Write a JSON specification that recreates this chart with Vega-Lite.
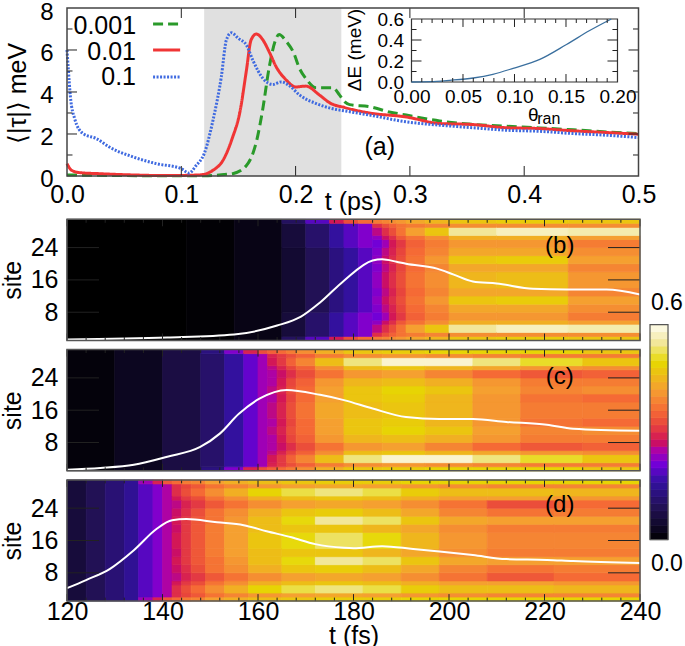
{"$schema":"https://vega.github.io/schema/vega-lite/v6.json","padding":{"left":0,"top":0,"right":0,"bottom":0},"background":"white","spacing":8.3,"bounds":"flush",
"config":{"font":"Liberation Sans","view":{"stroke":null},"axis":{"grid":false,"domain":false,"ticks":false,"tickSize":0,"labelColor":"#000","titleColor":"#000","titleFontWeight":"normal","labelFontSize":25,"titleFontSize":25,"labelFlush":false,"labelBound":false,"labelOverlap":false}},
"datasets":{
"heatFrame":[{"t":120,"u":240,"s":1,"e":31}],
"heatTicksX":[{"p":120,"a":1,"b":2.73},{"p":124,"a":1,"b":1.86},{"p":128,"a":1,"b":1.86},{"p":132,"a":1,"b":1.86},{"p":136,"a":1,"b":1.86},{"p":140,"a":1,"b":2.73},{"p":144,"a":1,"b":1.86},{"p":148,"a":1,"b":1.86},{"p":152,"a":1,"b":1.86},{"p":156,"a":1,"b":1.86},{"p":160,"a":1,"b":2.73},{"p":164,"a":1,"b":1.86},{"p":168,"a":1,"b":1.86},{"p":172,"a":1,"b":1.86},{"p":176,"a":1,"b":1.86},{"p":180,"a":1,"b":2.73},{"p":184,"a":1,"b":1.86},{"p":188,"a":1,"b":1.86},{"p":192,"a":1,"b":1.86},{"p":196,"a":1,"b":1.86},{"p":200,"a":1,"b":2.73},{"p":204,"a":1,"b":1.86},{"p":208,"a":1,"b":1.86},{"p":212,"a":1,"b":1.86},{"p":216,"a":1,"b":1.86},{"p":220,"a":1,"b":2.73},{"p":224,"a":1,"b":1.86},{"p":228,"a":1,"b":1.86},{"p":232,"a":1,"b":1.86},{"p":236,"a":1,"b":1.86},{"p":240,"a":1,"b":2.73},{"p":120,"a":31,"b":29.27},{"p":124,"a":31,"b":30.14},{"p":128,"a":31,"b":30.14},{"p":132,"a":31,"b":30.14},{"p":136,"a":31,"b":30.14},{"p":140,"a":31,"b":29.27},{"p":144,"a":31,"b":30.14},{"p":148,"a":31,"b":30.14},{"p":152,"a":31,"b":30.14},{"p":156,"a":31,"b":30.14},{"p":160,"a":31,"b":29.27},{"p":164,"a":31,"b":30.14},{"p":168,"a":31,"b":30.14},{"p":172,"a":31,"b":30.14},{"p":176,"a":31,"b":30.14},{"p":180,"a":31,"b":29.27},{"p":184,"a":31,"b":30.14},{"p":188,"a":31,"b":30.14},{"p":192,"a":31,"b":30.14},{"p":196,"a":31,"b":30.14},{"p":200,"a":31,"b":29.27},{"p":204,"a":31,"b":30.14},{"p":208,"a":31,"b":30.14},{"p":212,"a":31,"b":30.14},{"p":216,"a":31,"b":30.14},{"p":220,"a":31,"b":29.27},{"p":224,"a":31,"b":30.14},{"p":228,"a":31,"b":30.14},{"p":232,"a":31,"b":30.14},{"p":236,"a":31,"b":30.14},{"p":240,"a":31,"b":29.27}],
"heatTicksY":[{"p":8,"a":120,"b":126.7},{"p":16,"a":120,"b":126.7},{"p":24,"a":120,"b":126.7},{"p":8,"a":240,"b":233.3},{"p":16,"a":240,"b":233.3},{"p":24,"a":240,"b":233.3}],
"bar":[{"lo":0,"hi":0.02,"v":0.01},{"lo":0.02,"hi":0.04,"v":0.03},{"lo":0.04,"hi":0.06,"v":0.05},{"lo":0.06,"hi":0.08,"v":0.07},{"lo":0.08,"hi":0.1,"v":0.09},{"lo":0.1,"hi":0.12,"v":0.11},{"lo":0.12,"hi":0.14,"v":0.13},{"lo":0.14,"hi":0.16,"v":0.15},{"lo":0.16,"hi":0.18,"v":0.17},{"lo":0.18,"hi":0.2,"v":0.19},{"lo":0.2,"hi":0.22,"v":0.21},{"lo":0.22,"hi":0.24,"v":0.23},{"lo":0.24,"hi":0.26,"v":0.25},{"lo":0.26,"hi":0.28,"v":0.27},{"lo":0.28,"hi":0.3,"v":0.29},{"lo":0.3,"hi":0.32,"v":0.31},{"lo":0.32,"hi":0.34,"v":0.33},{"lo":0.34,"hi":0.36,"v":0.35},{"lo":0.36,"hi":0.38,"v":0.37},{"lo":0.38,"hi":0.4,"v":0.39},{"lo":0.4,"hi":0.42,"v":0.41},{"lo":0.42,"hi":0.44,"v":0.43},{"lo":0.44,"hi":0.46,"v":0.45},{"lo":0.46,"hi":0.48,"v":0.47},{"lo":0.48,"hi":0.5,"v":0.49},{"lo":0.5,"hi":0.52,"v":0.51},{"lo":0.52,"hi":0.54,"v":0.53},{"lo":0.54,"hi":0.56,"v":0.55},{"lo":0.56,"hi":0.58,"v":0.57},{"lo":0.58,"hi":0.6,"v":0.59}],
"heatB":[{"t":120,"u":145,"s":1,"e":31,"v":0},{"t":145,"u":155,"s":1,"e":31,"v":0.005},{"t":155,"u":165,"s":1,"e":31,"v":0.02},
{"t":165,"u":170,"s":1,"e":2,"v":0.1},{"t":165,"u":170,"s":2,"e":8,"v":0.06},{"t":165,"u":170,"s":8,"e":24,"v":0.05},{"t":165,"u":170,"s":24,"e":30,"v":0.06},{"t":165,"u":170,"s":30,"e":31,"v":0.1},
{"t":170,"u":175,"s":1,"e":2,"v":0.19},{"t":170,"u":175,"s":2,"e":8,"v":0.11},{"t":170,"u":175,"s":8,"e":24,"v":0.09},{"t":170,"u":175,"s":24,"e":30,"v":0.11},{"t":170,"u":175,"s":30,"e":31,"v":0.19},
{"t":175,"u":178,"s":1,"e":2,"v":0.28},{"t":175,"u":178,"s":2,"e":8,"v":0.16},{"t":175,"u":178,"s":8,"e":24,"v":0.13},{"t":175,"u":178,"s":24,"e":30,"v":0.16},{"t":175,"u":178,"s":30,"e":31,"v":0.28},
{"t":178,"u":181,"s":1,"e":2,"v":0.33},{"t":178,"u":181,"s":2,"e":8,"v":0.19},{"t":178,"u":181,"s":8,"e":24,"v":0.16},{"t":178,"u":181,"s":24,"e":30,"v":0.19},{"t":178,"u":181,"s":30,"e":31,"v":0.33},
{"t":181,"u":184,"s":1,"e":2,"v":0.36},{"t":181,"u":184,"s":2,"e":8,"v":0.22},{"t":181,"u":184,"s":8,"e":24,"v":0.19},{"t":181,"u":184,"s":24,"e":30,"v":0.22},{"t":181,"u":184,"s":30,"e":31,"v":0.36},
{"t":184,"u":186,"s":1,"e":2,"v":0.38},{"t":184,"u":186,"s":2,"e":3,"v":0.3},{"t":184,"u":186,"s":3,"e":5,"v":0.26},{"t":184,"u":186,"s":5,"e":6,"v":0.23},{"t":184,"u":186,"s":6,"e":8,"v":0.21},{"t":184,"u":186,"s":8,"e":10,"v":0.22},{"t":184,"u":186,"s":10,"e":12,"v":0.23},{"t":184,"u":186,"s":12,"e":14,"v":0.22},{"t":184,"u":186,"s":14,"e":18,"v":0.23},{"t":184,"u":186,"s":18,"e":20,"v":0.22},{"t":184,"u":186,"s":20,"e":22,"v":0.23},{"t":184,"u":186,"s":22,"e":24,"v":0.22},{"t":184,"u":186,"s":24,"e":26,"v":0.21},{"t":184,"u":186,"s":26,"e":27,"v":0.23},{"t":184,"u":186,"s":27,"e":29,"v":0.26},{"t":184,"u":186,"s":29,"e":30,"v":0.3},{"t":184,"u":186,"s":30,"e":31,"v":0.38},
{"t":186,"u":187.5,"s":1,"e":2,"v":0.39},{"t":186,"u":187.5,"s":2,"e":3,"v":0.33},{"t":186,"u":187.5,"s":3,"e":5,"v":0.3},{"t":186,"u":187.5,"s":5,"e":6,"v":0.27},{"t":186,"u":187.5,"s":6,"e":8,"v":0.24},{"t":186,"u":187.5,"s":8,"e":10,"v":0.26},{"t":186,"u":187.5,"s":10,"e":12,"v":0.27},{"t":186,"u":187.5,"s":12,"e":14,"v":0.26},{"t":186,"u":187.5,"s":14,"e":18,"v":0.27},{"t":186,"u":187.5,"s":18,"e":20,"v":0.26},{"t":186,"u":187.5,"s":20,"e":22,"v":0.27},{"t":186,"u":187.5,"s":22,"e":24,"v":0.26},{"t":186,"u":187.5,"s":24,"e":26,"v":0.24},{"t":186,"u":187.5,"s":26,"e":27,"v":0.27},{"t":186,"u":187.5,"s":27,"e":29,"v":0.3},{"t":186,"u":187.5,"s":29,"e":30,"v":0.33},{"t":186,"u":187.5,"s":30,"e":31,"v":0.39},
{"t":187.5,"u":189,"s":1,"e":2,"v":0.4},{"t":187.5,"u":189,"s":2,"e":3,"v":0.35},{"t":187.5,"u":189,"s":3,"e":5,"v":0.33},{"t":187.5,"u":189,"s":5,"e":6,"v":0.3},{"t":187.5,"u":189,"s":6,"e":8,"v":0.28},{"t":187.5,"u":189,"s":8,"e":10,"v":0.29},{"t":187.5,"u":189,"s":10,"e":12,"v":0.3},{"t":187.5,"u":189,"s":12,"e":14,"v":0.29},{"t":187.5,"u":189,"s":14,"e":18,"v":0.3},{"t":187.5,"u":189,"s":18,"e":20,"v":0.29},{"t":187.5,"u":189,"s":20,"e":22,"v":0.3},{"t":187.5,"u":189,"s":22,"e":24,"v":0.29},{"t":187.5,"u":189,"s":24,"e":26,"v":0.28},{"t":187.5,"u":189,"s":26,"e":27,"v":0.3},{"t":187.5,"u":189,"s":27,"e":29,"v":0.33},{"t":187.5,"u":189,"s":29,"e":30,"v":0.35},{"t":187.5,"u":189,"s":30,"e":31,"v":0.4},
{"t":189,"u":191,"s":1,"e":2,"v":0.41},{"t":189,"u":191,"s":2,"e":3,"v":0.37},{"t":189,"u":191,"s":3,"e":5,"v":0.37},{"t":189,"u":191,"s":5,"e":6,"v":0.34},{"t":189,"u":191,"s":6,"e":8,"v":0.31},{"t":189,"u":191,"s":8,"e":10,"v":0.32},{"t":189,"u":191,"s":10,"e":12,"v":0.33},{"t":189,"u":191,"s":12,"e":14,"v":0.32},{"t":189,"u":191,"s":14,"e":18,"v":0.33},{"t":189,"u":191,"s":18,"e":20,"v":0.32},{"t":189,"u":191,"s":20,"e":22,"v":0.33},{"t":189,"u":191,"s":22,"e":24,"v":0.32},{"t":189,"u":191,"s":24,"e":26,"v":0.31},{"t":189,"u":191,"s":26,"e":27,"v":0.34},{"t":189,"u":191,"s":27,"e":29,"v":0.37},{"t":189,"u":191,"s":29,"e":30,"v":0.37},{"t":189,"u":191,"s":30,"e":31,"v":0.41},
{"t":191,"u":195,"s":1,"e":2,"v":0.43},{"t":191,"u":195,"s":2,"e":3,"v":0.38},{"t":191,"u":195,"s":3,"e":5,"v":0.42},{"t":191,"u":195,"s":5,"e":6,"v":0.37},{"t":191,"u":195,"s":6,"e":8,"v":0.35},{"t":191,"u":195,"s":8,"e":10,"v":0.36},{"t":191,"u":195,"s":10,"e":12,"v":0.37},{"t":191,"u":195,"s":12,"e":14,"v":0.36},{"t":191,"u":195,"s":14,"e":18,"v":0.37},{"t":191,"u":195,"s":18,"e":20,"v":0.36},{"t":191,"u":195,"s":20,"e":22,"v":0.37},{"t":191,"u":195,"s":22,"e":24,"v":0.36},{"t":191,"u":195,"s":24,"e":26,"v":0.35},{"t":191,"u":195,"s":26,"e":27,"v":0.37},{"t":191,"u":195,"s":27,"e":29,"v":0.42},{"t":191,"u":195,"s":29,"e":30,"v":0.38},{"t":191,"u":195,"s":30,"e":31,"v":0.43},
{"t":195,"u":200,"s":1,"e":2,"v":0.45},{"t":195,"u":200,"s":2,"e":3,"v":0.39},{"t":195,"u":200,"s":3,"e":5,"v":0.47},{"t":195,"u":200,"s":5,"e":6,"v":0.4},{"t":195,"u":200,"s":6,"e":8,"v":0.38},{"t":195,"u":200,"s":8,"e":10,"v":0.39},{"t":195,"u":200,"s":10,"e":12,"v":0.41},{"t":195,"u":200,"s":12,"e":14,"v":0.39},{"t":195,"u":200,"s":14,"e":18,"v":0.4},{"t":195,"u":200,"s":18,"e":20,"v":0.39},{"t":195,"u":200,"s":20,"e":22,"v":0.41},{"t":195,"u":200,"s":22,"e":24,"v":0.39},{"t":195,"u":200,"s":24,"e":26,"v":0.38},{"t":195,"u":200,"s":26,"e":27,"v":0.4},{"t":195,"u":200,"s":27,"e":29,"v":0.47},{"t":195,"u":200,"s":29,"e":30,"v":0.39},{"t":195,"u":200,"s":30,"e":31,"v":0.45},
{"t":200,"u":210,"s":1,"e":2,"v":0.47},{"t":200,"u":210,"s":2,"e":3,"v":0.4},{"t":200,"u":210,"s":3,"e":5,"v":0.55},{"t":200,"u":210,"s":5,"e":6,"v":0.44},{"t":200,"u":210,"s":6,"e":8,"v":0.41},{"t":200,"u":210,"s":8,"e":10,"v":0.43},{"t":200,"u":210,"s":10,"e":12,"v":0.47},{"t":200,"u":210,"s":12,"e":14,"v":0.43},{"t":200,"u":210,"s":14,"e":18,"v":0.45},{"t":200,"u":210,"s":18,"e":20,"v":0.43},{"t":200,"u":210,"s":20,"e":22,"v":0.47},{"t":200,"u":210,"s":22,"e":24,"v":0.43},{"t":200,"u":210,"s":24,"e":26,"v":0.41},{"t":200,"u":210,"s":26,"e":27,"v":0.44},{"t":200,"u":210,"s":27,"e":29,"v":0.55},{"t":200,"u":210,"s":29,"e":30,"v":0.4},{"t":200,"u":210,"s":30,"e":31,"v":0.47},
{"t":210,"u":225,"s":1,"e":2,"v":0.48},{"t":210,"u":225,"s":2,"e":3,"v":0.4},{"t":210,"u":225,"s":3,"e":5,"v":0.57},{"t":210,"u":225,"s":5,"e":6,"v":0.44},{"t":210,"u":225,"s":6,"e":8,"v":0.41},{"t":210,"u":225,"s":8,"e":10,"v":0.43},{"t":210,"u":225,"s":10,"e":12,"v":0.48},{"t":210,"u":225,"s":12,"e":14,"v":0.43},{"t":210,"u":225,"s":14,"e":18,"v":0.46},{"t":210,"u":225,"s":18,"e":20,"v":0.43},{"t":210,"u":225,"s":20,"e":22,"v":0.48},{"t":210,"u":225,"s":22,"e":24,"v":0.43},{"t":210,"u":225,"s":24,"e":26,"v":0.41},{"t":210,"u":225,"s":26,"e":27,"v":0.44},{"t":210,"u":225,"s":27,"e":29,"v":0.57},{"t":210,"u":225,"s":29,"e":30,"v":0.4},{"t":210,"u":225,"s":30,"e":31,"v":0.48},
{"t":225,"u":240,"s":1,"e":2,"v":0.47},{"t":225,"u":240,"s":2,"e":3,"v":0.4},{"t":225,"u":240,"s":3,"e":5,"v":0.56},{"t":225,"u":240,"s":5,"e":6,"v":0.42},{"t":225,"u":240,"s":6,"e":8,"v":0.38},{"t":225,"u":240,"s":8,"e":10,"v":0.4},{"t":225,"u":240,"s":10,"e":12,"v":0.42},{"t":225,"u":240,"s":12,"e":14,"v":0.39},{"t":225,"u":240,"s":14,"e":18,"v":0.41},{"t":225,"u":240,"s":18,"e":20,"v":0.39},{"t":225,"u":240,"s":20,"e":22,"v":0.42},{"t":225,"u":240,"s":22,"e":24,"v":0.4},{"t":225,"u":240,"s":24,"e":26,"v":0.38},{"t":225,"u":240,"s":26,"e":27,"v":0.42},{"t":225,"u":240,"s":27,"e":29,"v":0.56},{"t":225,"u":240,"s":29,"e":30,"v":0.4},{"t":225,"u":240,"s":30,"e":31,"v":0.47}],
"heatC":[{"t":120,"u":130,"s":1,"e":31,"v":0.01},{"t":130,"u":140,"s":1,"e":31,"v":0.03},{"t":140,"u":148,"s":1,"e":31,"v":0.07},
{"t":148,"u":153,"s":1,"e":2,"v":0.13},{"t":148,"u":153,"s":2,"e":30,"v":0.11},{"t":148,"u":153,"s":30,"e":31,"v":0.13},
{"t":153,"u":157,"s":1,"e":2,"v":0.22},{"t":153,"u":157,"s":2,"e":30,"v":0.16},{"t":153,"u":157,"s":30,"e":31,"v":0.22},
{"t":157,"u":160,"s":1,"e":2,"v":0.29},{"t":157,"u":160,"s":2,"e":30,"v":0.2},{"t":157,"u":160,"s":30,"e":31,"v":0.29},
{"t":160,"u":162,"s":1,"e":2,"v":0.33},{"t":160,"u":162,"s":2,"e":30,"v":0.24},{"t":160,"u":162,"s":30,"e":31,"v":0.33},
{"t":162,"u":164,"s":1,"e":2,"v":0.35},{"t":162,"u":164,"s":2,"e":3,"v":0.29},{"t":162,"u":164,"s":3,"e":5,"v":0.28},{"t":162,"u":164,"s":5,"e":6,"v":0.26},{"t":162,"u":164,"s":6,"e":8,"v":0.25},{"t":162,"u":164,"s":8,"e":10,"v":0.25},{"t":162,"u":164,"s":10,"e":12,"v":0.26},{"t":162,"u":164,"s":12,"e":14,"v":0.25},{"t":162,"u":164,"s":14,"e":18,"v":0.26},{"t":162,"u":164,"s":18,"e":20,"v":0.25},{"t":162,"u":164,"s":20,"e":22,"v":0.26},{"t":162,"u":164,"s":22,"e":24,"v":0.25},{"t":162,"u":164,"s":24,"e":26,"v":0.25},{"t":162,"u":164,"s":26,"e":27,"v":0.26},{"t":162,"u":164,"s":27,"e":29,"v":0.28},{"t":162,"u":164,"s":29,"e":30,"v":0.29},{"t":162,"u":164,"s":30,"e":31,"v":0.35},
{"t":164,"u":166,"s":1,"e":2,"v":0.36},{"t":164,"u":166,"s":2,"e":3,"v":0.31},{"t":164,"u":166,"s":3,"e":5,"v":0.31},{"t":164,"u":166,"s":5,"e":6,"v":0.29},{"t":164,"u":166,"s":6,"e":8,"v":0.27},{"t":164,"u":166,"s":8,"e":10,"v":0.28},{"t":164,"u":166,"s":10,"e":12,"v":0.29},{"t":164,"u":166,"s":12,"e":14,"v":0.28},{"t":164,"u":166,"s":14,"e":18,"v":0.29},{"t":164,"u":166,"s":18,"e":20,"v":0.28},{"t":164,"u":166,"s":20,"e":22,"v":0.29},{"t":164,"u":166,"s":22,"e":24,"v":0.28},{"t":164,"u":166,"s":24,"e":26,"v":0.27},{"t":164,"u":166,"s":26,"e":27,"v":0.29},{"t":164,"u":166,"s":27,"e":29,"v":0.31},{"t":164,"u":166,"s":29,"e":30,"v":0.31},{"t":164,"u":166,"s":30,"e":31,"v":0.36},
{"t":166,"u":168,"s":1,"e":2,"v":0.38},{"t":166,"u":168,"s":2,"e":3,"v":0.33},{"t":166,"u":168,"s":3,"e":5,"v":0.35},{"t":166,"u":168,"s":5,"e":6,"v":0.32},{"t":166,"u":168,"s":6,"e":8,"v":0.3},{"t":166,"u":168,"s":8,"e":10,"v":0.32},{"t":166,"u":168,"s":10,"e":12,"v":0.33},{"t":166,"u":168,"s":12,"e":14,"v":0.32},{"t":166,"u":168,"s":14,"e":18,"v":0.33},{"t":166,"u":168,"s":18,"e":20,"v":0.32},{"t":166,"u":168,"s":20,"e":22,"v":0.33},{"t":166,"u":168,"s":22,"e":24,"v":0.32},{"t":166,"u":168,"s":24,"e":26,"v":0.3},{"t":166,"u":168,"s":26,"e":27,"v":0.32},{"t":166,"u":168,"s":27,"e":29,"v":0.35},{"t":166,"u":168,"s":29,"e":30,"v":0.33},{"t":166,"u":168,"s":30,"e":31,"v":0.38},
{"t":168,"u":172,"s":1,"e":2,"v":0.4},{"t":168,"u":172,"s":2,"e":3,"v":0.35},{"t":168,"u":172,"s":3,"e":5,"v":0.39},{"t":168,"u":172,"s":5,"e":6,"v":0.35},{"t":168,"u":172,"s":6,"e":8,"v":0.33},{"t":168,"u":172,"s":8,"e":10,"v":0.35},{"t":168,"u":172,"s":10,"e":12,"v":0.36},{"t":168,"u":172,"s":12,"e":14,"v":0.36},{"t":168,"u":172,"s":14,"e":18,"v":0.37},{"t":168,"u":172,"s":18,"e":20,"v":0.36},{"t":168,"u":172,"s":20,"e":22,"v":0.36},{"t":168,"u":172,"s":22,"e":24,"v":0.35},{"t":168,"u":172,"s":24,"e":26,"v":0.33},{"t":168,"u":172,"s":26,"e":27,"v":0.35},{"t":168,"u":172,"s":27,"e":29,"v":0.39},{"t":168,"u":172,"s":29,"e":30,"v":0.35},{"t":168,"u":172,"s":30,"e":31,"v":0.4},
{"t":172,"u":178,"s":1,"e":2,"v":0.44},{"t":172,"u":178,"s":2,"e":3,"v":0.38},{"t":172,"u":178,"s":3,"e":5,"v":0.46},{"t":172,"u":178,"s":5,"e":6,"v":0.4},{"t":172,"u":178,"s":6,"e":8,"v":0.37},{"t":172,"u":178,"s":8,"e":10,"v":0.41},{"t":172,"u":178,"s":10,"e":12,"v":0.42},{"t":172,"u":178,"s":12,"e":14,"v":0.42},{"t":172,"u":178,"s":14,"e":18,"v":0.43},{"t":172,"u":178,"s":18,"e":20,"v":0.42},{"t":172,"u":178,"s":20,"e":22,"v":0.42},{"t":172,"u":178,"s":22,"e":24,"v":0.41},{"t":172,"u":178,"s":24,"e":26,"v":0.37},{"t":172,"u":178,"s":26,"e":27,"v":0.4},{"t":172,"u":178,"s":27,"e":29,"v":0.46},{"t":172,"u":178,"s":29,"e":30,"v":0.38},{"t":172,"u":178,"s":30,"e":31,"v":0.44},
{"t":178,"u":186,"s":1,"e":2,"v":0.47},{"t":178,"u":186,"s":2,"e":3,"v":0.4},{"t":178,"u":186,"s":3,"e":5,"v":0.54},{"t":178,"u":186,"s":5,"e":6,"v":0.46},{"t":178,"u":186,"s":6,"e":8,"v":0.41},{"t":178,"u":186,"s":8,"e":10,"v":0.45},{"t":178,"u":186,"s":10,"e":12,"v":0.47},{"t":178,"u":186,"s":12,"e":14,"v":0.47},{"t":178,"u":186,"s":14,"e":18,"v":0.46},{"t":178,"u":186,"s":18,"e":20,"v":0.47},{"t":178,"u":186,"s":20,"e":22,"v":0.47},{"t":178,"u":186,"s":22,"e":24,"v":0.45},{"t":178,"u":186,"s":24,"e":26,"v":0.41},{"t":178,"u":186,"s":26,"e":27,"v":0.46},{"t":178,"u":186,"s":27,"e":29,"v":0.54},{"t":178,"u":186,"s":29,"e":30,"v":0.4},{"t":178,"u":186,"s":30,"e":31,"v":0.47},
{"t":186,"u":195,"s":1,"e":2,"v":0.48},{"t":186,"u":195,"s":2,"e":3,"v":0.41},{"t":186,"u":195,"s":3,"e":5,"v":0.58},{"t":186,"u":195,"s":5,"e":6,"v":0.47},{"t":186,"u":195,"s":6,"e":8,"v":0.42},{"t":186,"u":195,"s":8,"e":10,"v":0.46},{"t":186,"u":195,"s":10,"e":12,"v":0.49},{"t":186,"u":195,"s":12,"e":14,"v":0.48},{"t":186,"u":195,"s":14,"e":18,"v":0.47},{"t":186,"u":195,"s":18,"e":20,"v":0.48},{"t":186,"u":195,"s":20,"e":22,"v":0.49},{"t":186,"u":195,"s":22,"e":24,"v":0.46},{"t":186,"u":195,"s":24,"e":26,"v":0.42},{"t":186,"u":195,"s":26,"e":27,"v":0.47},{"t":186,"u":195,"s":27,"e":29,"v":0.58},{"t":186,"u":195,"s":29,"e":30,"v":0.41},{"t":186,"u":195,"s":30,"e":31,"v":0.48},
{"t":195,"u":205,"s":1,"e":2,"v":0.49},{"t":195,"u":205,"s":2,"e":3,"v":0.4},{"t":195,"u":205,"s":3,"e":5,"v":0.58},{"t":195,"u":205,"s":5,"e":6,"v":0.45},{"t":195,"u":205,"s":6,"e":8,"v":0.39},{"t":195,"u":205,"s":8,"e":10,"v":0.44},{"t":195,"u":205,"s":10,"e":12,"v":0.47},{"t":195,"u":205,"s":12,"e":14,"v":0.45},{"t":195,"u":205,"s":14,"e":18,"v":0.45},{"t":195,"u":205,"s":18,"e":20,"v":0.45},{"t":195,"u":205,"s":20,"e":22,"v":0.47},{"t":195,"u":205,"s":22,"e":24,"v":0.44},{"t":195,"u":205,"s":24,"e":26,"v":0.39},{"t":195,"u":205,"s":26,"e":27,"v":0.45},{"t":195,"u":205,"s":27,"e":29,"v":0.58},{"t":195,"u":205,"s":29,"e":30,"v":0.4},{"t":195,"u":205,"s":30,"e":31,"v":0.49},
{"t":205,"u":215,"s":1,"e":2,"v":0.49},{"t":205,"u":215,"s":2,"e":3,"v":0.39},{"t":205,"u":215,"s":3,"e":5,"v":0.54},{"t":205,"u":215,"s":5,"e":6,"v":0.43},{"t":205,"u":215,"s":6,"e":8,"v":0.36},{"t":205,"u":215,"s":8,"e":10,"v":0.41},{"t":205,"u":215,"s":10,"e":12,"v":0.42},{"t":205,"u":215,"s":12,"e":14,"v":0.41},{"t":205,"u":215,"s":14,"e":18,"v":0.41},{"t":205,"u":215,"s":18,"e":20,"v":0.41},{"t":205,"u":215,"s":20,"e":22,"v":0.42},{"t":205,"u":215,"s":22,"e":24,"v":0.41},{"t":205,"u":215,"s":24,"e":26,"v":0.36},{"t":205,"u":215,"s":26,"e":27,"v":0.43},{"t":205,"u":215,"s":27,"e":29,"v":0.54},{"t":205,"u":215,"s":29,"e":30,"v":0.39},{"t":205,"u":215,"s":30,"e":31,"v":0.49},
{"t":215,"u":228,"s":1,"e":2,"v":0.49},{"t":215,"u":228,"s":2,"e":3,"v":0.38},{"t":215,"u":228,"s":3,"e":5,"v":0.51},{"t":215,"u":228,"s":5,"e":6,"v":0.41},{"t":215,"u":228,"s":6,"e":8,"v":0.34},{"t":215,"u":228,"s":8,"e":10,"v":0.38},{"t":215,"u":228,"s":10,"e":12,"v":0.39},{"t":215,"u":228,"s":12,"e":14,"v":0.37},{"t":215,"u":228,"s":14,"e":18,"v":0.38},{"t":215,"u":228,"s":18,"e":20,"v":0.37},{"t":215,"u":228,"s":20,"e":22,"v":0.39},{"t":215,"u":228,"s":22,"e":24,"v":0.38},{"t":215,"u":228,"s":24,"e":26,"v":0.34},{"t":215,"u":228,"s":26,"e":27,"v":0.41},{"t":215,"u":228,"s":27,"e":29,"v":0.51},{"t":215,"u":228,"s":29,"e":30,"v":0.38},{"t":215,"u":228,"s":30,"e":31,"v":0.49},
{"t":228,"u":240,"s":1,"e":2,"v":0.47},{"t":228,"u":240,"s":2,"e":3,"v":0.38},{"t":228,"u":240,"s":3,"e":5,"v":0.47},{"t":228,"u":240,"s":5,"e":6,"v":0.4},{"t":228,"u":240,"s":6,"e":8,"v":0.35},{"t":228,"u":240,"s":8,"e":10,"v":0.38},{"t":228,"u":240,"s":10,"e":12,"v":0.4},{"t":228,"u":240,"s":12,"e":14,"v":0.36},{"t":228,"u":240,"s":14,"e":18,"v":0.38},{"t":228,"u":240,"s":18,"e":20,"v":0.36},{"t":228,"u":240,"s":20,"e":22,"v":0.4},{"t":228,"u":240,"s":22,"e":24,"v":0.38},{"t":228,"u":240,"s":24,"e":26,"v":0.35},{"t":228,"u":240,"s":26,"e":27,"v":0.4},{"t":228,"u":240,"s":27,"e":29,"v":0.47},{"t":228,"u":240,"s":29,"e":30,"v":0.38},{"t":228,"u":240,"s":30,"e":31,"v":0.47}],
"heatD":[{"t":120,"u":124,"s":1,"e":31,"v":0.06},{"t":124,"u":128,"s":1,"e":31,"v":0.09},{"t":128,"u":132,"s":1,"e":31,"v":0.12},{"t":132,"u":135,"s":1,"e":31,"v":0.15},
{"t":135,"u":138,"s":1,"e":2,"v":0.24},{"t":135,"u":138,"s":2,"e":30,"v":0.19},{"t":135,"u":138,"s":30,"e":31,"v":0.24},
{"t":138,"u":140,"s":1,"e":2,"v":0.29},{"t":138,"u":140,"s":2,"e":30,"v":0.22},{"t":138,"u":140,"s":30,"e":31,"v":0.29},
{"t":140,"u":142,"s":1,"e":2,"v":0.34},{"t":140,"u":142,"s":2,"e":30,"v":0.25},{"t":140,"u":142,"s":30,"e":31,"v":0.34},
{"t":142,"u":144,"s":1,"e":2,"v":0.36},{"t":142,"u":144,"s":2,"e":3,"v":0.3},{"t":142,"u":144,"s":3,"e":5,"v":0.3},{"t":142,"u":144,"s":5,"e":6,"v":0.28},{"t":142,"u":144,"s":6,"e":8,"v":0.26},{"t":142,"u":144,"s":8,"e":10,"v":0.27},{"t":142,"u":144,"s":10,"e":12,"v":0.28},{"t":142,"u":144,"s":12,"e":14,"v":0.27},{"t":142,"u":144,"s":14,"e":18,"v":0.28},{"t":142,"u":144,"s":18,"e":20,"v":0.27},{"t":142,"u":144,"s":20,"e":22,"v":0.28},{"t":142,"u":144,"s":22,"e":24,"v":0.27},{"t":142,"u":144,"s":24,"e":26,"v":0.26},{"t":142,"u":144,"s":26,"e":27,"v":0.28},{"t":142,"u":144,"s":27,"e":29,"v":0.3},{"t":142,"u":144,"s":29,"e":30,"v":0.3},{"t":142,"u":144,"s":30,"e":31,"v":0.36},
{"t":144,"u":146,"s":1,"e":2,"v":0.38},{"t":144,"u":146,"s":2,"e":3,"v":0.32},{"t":144,"u":146,"s":3,"e":5,"v":0.33},{"t":144,"u":146,"s":5,"e":6,"v":0.31},{"t":144,"u":146,"s":6,"e":8,"v":0.29},{"t":144,"u":146,"s":8,"e":10,"v":0.3},{"t":144,"u":146,"s":10,"e":12,"v":0.31},{"t":144,"u":146,"s":12,"e":14,"v":0.31},{"t":144,"u":146,"s":14,"e":18,"v":0.31},{"t":144,"u":146,"s":18,"e":20,"v":0.31},{"t":144,"u":146,"s":20,"e":22,"v":0.31},{"t":144,"u":146,"s":22,"e":24,"v":0.3},{"t":144,"u":146,"s":24,"e":26,"v":0.29},{"t":144,"u":146,"s":26,"e":27,"v":0.31},{"t":144,"u":146,"s":27,"e":29,"v":0.33},{"t":144,"u":146,"s":29,"e":30,"v":0.32},{"t":144,"u":146,"s":30,"e":31,"v":0.38},
{"t":146,"u":149,"s":1,"e":2,"v":0.39},{"t":146,"u":149,"s":2,"e":3,"v":0.34},{"t":146,"u":149,"s":3,"e":5,"v":0.36},{"t":146,"u":149,"s":5,"e":6,"v":0.33},{"t":146,"u":149,"s":6,"e":8,"v":0.31},{"t":146,"u":149,"s":8,"e":10,"v":0.33},{"t":146,"u":149,"s":10,"e":12,"v":0.34},{"t":146,"u":149,"s":12,"e":14,"v":0.34},{"t":146,"u":149,"s":14,"e":18,"v":0.34},{"t":146,"u":149,"s":18,"e":20,"v":0.34},{"t":146,"u":149,"s":20,"e":22,"v":0.34},{"t":146,"u":149,"s":22,"e":24,"v":0.33},{"t":146,"u":149,"s":24,"e":26,"v":0.31},{"t":146,"u":149,"s":26,"e":27,"v":0.33},{"t":146,"u":149,"s":27,"e":29,"v":0.36},{"t":146,"u":149,"s":29,"e":30,"v":0.34},{"t":146,"u":149,"s":30,"e":31,"v":0.39},
{"t":149,"u":153,"s":1,"e":2,"v":0.42},{"t":149,"u":153,"s":2,"e":3,"v":0.37},{"t":149,"u":153,"s":3,"e":5,"v":0.4},{"t":149,"u":153,"s":5,"e":6,"v":0.37},{"t":149,"u":153,"s":6,"e":8,"v":0.34},{"t":149,"u":153,"s":8,"e":10,"v":0.37},{"t":149,"u":153,"s":10,"e":12,"v":0.37},{"t":149,"u":153,"s":12,"e":14,"v":0.38},{"t":149,"u":153,"s":14,"e":18,"v":0.38},{"t":149,"u":153,"s":18,"e":20,"v":0.38},{"t":149,"u":153,"s":20,"e":22,"v":0.37},{"t":149,"u":153,"s":22,"e":24,"v":0.37},{"t":149,"u":153,"s":24,"e":26,"v":0.34},{"t":149,"u":153,"s":26,"e":27,"v":0.37},{"t":149,"u":153,"s":27,"e":29,"v":0.4},{"t":149,"u":153,"s":29,"e":30,"v":0.37},{"t":149,"u":153,"s":30,"e":31,"v":0.42},
{"t":153,"u":158,"s":1,"e":2,"v":0.44},{"t":153,"u":158,"s":2,"e":3,"v":0.39},{"t":153,"u":158,"s":3,"e":5,"v":0.44},{"t":153,"u":158,"s":5,"e":6,"v":0.4},{"t":153,"u":158,"s":6,"e":8,"v":0.37},{"t":153,"u":158,"s":8,"e":10,"v":0.4},{"t":153,"u":158,"s":10,"e":12,"v":0.41},{"t":153,"u":158,"s":12,"e":14,"v":0.42},{"t":153,"u":158,"s":14,"e":18,"v":0.42},{"t":153,"u":158,"s":18,"e":20,"v":0.42},{"t":153,"u":158,"s":20,"e":22,"v":0.41},{"t":153,"u":158,"s":22,"e":24,"v":0.4},{"t":153,"u":158,"s":24,"e":26,"v":0.37},{"t":153,"u":158,"s":26,"e":27,"v":0.4},{"t":153,"u":158,"s":27,"e":29,"v":0.44},{"t":153,"u":158,"s":29,"e":30,"v":0.39},{"t":153,"u":158,"s":30,"e":31,"v":0.44},
{"t":158,"u":165,"s":1,"e":2,"v":0.46},{"t":158,"u":165,"s":2,"e":3,"v":0.41},{"t":158,"u":165,"s":3,"e":5,"v":0.49},{"t":158,"u":165,"s":5,"e":6,"v":0.44},{"t":158,"u":165,"s":6,"e":8,"v":0.4},{"t":158,"u":165,"s":8,"e":10,"v":0.44},{"t":158,"u":165,"s":10,"e":12,"v":0.46},{"t":158,"u":165,"s":12,"e":14,"v":0.46},{"t":158,"u":165,"s":14,"e":18,"v":0.47},{"t":158,"u":165,"s":18,"e":20,"v":0.46},{"t":158,"u":165,"s":20,"e":22,"v":0.46},{"t":158,"u":165,"s":22,"e":24,"v":0.44},{"t":158,"u":165,"s":24,"e":26,"v":0.4},{"t":158,"u":165,"s":26,"e":27,"v":0.44},{"t":158,"u":165,"s":27,"e":29,"v":0.49},{"t":158,"u":165,"s":29,"e":30,"v":0.41},{"t":158,"u":165,"s":30,"e":31,"v":0.46},
{"t":165,"u":172,"s":1,"e":2,"v":0.47},{"t":165,"u":172,"s":2,"e":3,"v":0.42},{"t":165,"u":172,"s":3,"e":5,"v":0.52},{"t":165,"u":172,"s":5,"e":6,"v":0.46},{"t":165,"u":172,"s":6,"e":8,"v":0.42},{"t":165,"u":172,"s":8,"e":10,"v":0.47},{"t":165,"u":172,"s":10,"e":12,"v":0.5},{"t":165,"u":172,"s":12,"e":14,"v":0.47},{"t":165,"u":172,"s":14,"e":18,"v":0.5},{"t":165,"u":172,"s":18,"e":20,"v":0.47},{"t":165,"u":172,"s":20,"e":22,"v":0.5},{"t":165,"u":172,"s":22,"e":24,"v":0.47},{"t":165,"u":172,"s":24,"e":26,"v":0.42},{"t":165,"u":172,"s":26,"e":27,"v":0.46},{"t":165,"u":172,"s":27,"e":29,"v":0.52},{"t":165,"u":172,"s":29,"e":30,"v":0.42},{"t":165,"u":172,"s":30,"e":31,"v":0.47},
{"t":172,"u":182,"s":1,"e":2,"v":0.48},{"t":172,"u":182,"s":2,"e":3,"v":0.43},{"t":172,"u":182,"s":3,"e":5,"v":0.54},{"t":172,"u":182,"s":5,"e":6,"v":0.47},{"t":172,"u":182,"s":6,"e":8,"v":0.43},{"t":172,"u":182,"s":8,"e":10,"v":0.48},{"t":172,"u":182,"s":10,"e":12,"v":0.55},{"t":172,"u":182,"s":12,"e":14,"v":0.47},{"t":172,"u":182,"s":14,"e":18,"v":0.53},{"t":172,"u":182,"s":18,"e":20,"v":0.47},{"t":172,"u":182,"s":20,"e":22,"v":0.55},{"t":172,"u":182,"s":22,"e":24,"v":0.48},{"t":172,"u":182,"s":24,"e":26,"v":0.43},{"t":172,"u":182,"s":26,"e":27,"v":0.47},{"t":172,"u":182,"s":27,"e":29,"v":0.54},{"t":172,"u":182,"s":29,"e":30,"v":0.43},{"t":172,"u":182,"s":30,"e":31,"v":0.48},
{"t":182,"u":190,"s":1,"e":2,"v":0.48},{"t":182,"u":190,"s":2,"e":3,"v":0.42},{"t":182,"u":190,"s":3,"e":5,"v":0.52},{"t":182,"u":190,"s":5,"e":6,"v":0.46},{"t":182,"u":190,"s":6,"e":8,"v":0.42},{"t":182,"u":190,"s":8,"e":10,"v":0.46},{"t":182,"u":190,"s":10,"e":12,"v":0.53},{"t":182,"u":190,"s":12,"e":14,"v":0.45},{"t":182,"u":190,"s":14,"e":18,"v":0.5},{"t":182,"u":190,"s":18,"e":20,"v":0.45},{"t":182,"u":190,"s":20,"e":22,"v":0.53},{"t":182,"u":190,"s":22,"e":24,"v":0.46},{"t":182,"u":190,"s":24,"e":26,"v":0.42},{"t":182,"u":190,"s":26,"e":27,"v":0.46},{"t":182,"u":190,"s":27,"e":29,"v":0.52},{"t":182,"u":190,"s":29,"e":30,"v":0.42},{"t":182,"u":190,"s":30,"e":31,"v":0.48},
{"t":190,"u":198,"s":1,"e":2,"v":0.49},{"t":190,"u":198,"s":2,"e":3,"v":0.41},{"t":190,"u":198,"s":3,"e":5,"v":0.48},{"t":190,"u":198,"s":5,"e":6,"v":0.44},{"t":190,"u":198,"s":6,"e":8,"v":0.4},{"t":190,"u":198,"s":8,"e":10,"v":0.43},{"t":190,"u":198,"s":10,"e":12,"v":0.47},{"t":190,"u":198,"s":12,"e":14,"v":0.43},{"t":190,"u":198,"s":14,"e":18,"v":0.45},{"t":190,"u":198,"s":18,"e":20,"v":0.43},{"t":190,"u":198,"s":20,"e":22,"v":0.47},{"t":190,"u":198,"s":22,"e":24,"v":0.43},{"t":190,"u":198,"s":24,"e":26,"v":0.4},{"t":190,"u":198,"s":26,"e":27,"v":0.44},{"t":190,"u":198,"s":27,"e":29,"v":0.48},{"t":190,"u":198,"s":29,"e":30,"v":0.41},{"t":190,"u":198,"s":30,"e":31,"v":0.49},
{"t":198,"u":208,"s":1,"e":2,"v":0.49},{"t":198,"u":208,"s":2,"e":3,"v":0.4},{"t":198,"u":208,"s":3,"e":5,"v":0.46},{"t":198,"u":208,"s":5,"e":6,"v":0.42},{"t":198,"u":208,"s":6,"e":8,"v":0.37},{"t":198,"u":208,"s":8,"e":10,"v":0.39},{"t":198,"u":208,"s":10,"e":12,"v":0.43},{"t":198,"u":208,"s":12,"e":14,"v":0.4},{"t":198,"u":208,"s":14,"e":18,"v":0.41},{"t":198,"u":208,"s":18,"e":20,"v":0.4},{"t":198,"u":208,"s":20,"e":22,"v":0.43},{"t":198,"u":208,"s":22,"e":24,"v":0.39},{"t":198,"u":208,"s":24,"e":26,"v":0.37},{"t":198,"u":208,"s":26,"e":27,"v":0.42},{"t":198,"u":208,"s":27,"e":29,"v":0.46},{"t":198,"u":208,"s":29,"e":30,"v":0.4},{"t":198,"u":208,"s":30,"e":31,"v":0.49},
{"t":208,"u":222,"s":1,"e":2,"v":0.49},{"t":208,"u":222,"s":2,"e":3,"v":0.39},{"t":208,"u":222,"s":3,"e":5,"v":0.46},{"t":208,"u":222,"s":5,"e":6,"v":0.42},{"t":208,"u":222,"s":6,"e":8,"v":0.34},{"t":208,"u":222,"s":8,"e":10,"v":0.37},{"t":208,"u":222,"s":10,"e":12,"v":0.42},{"t":208,"u":222,"s":12,"e":14,"v":0.38},{"t":208,"u":222,"s":14,"e":18,"v":0.39},{"t":208,"u":222,"s":18,"e":20,"v":0.38},{"t":208,"u":222,"s":20,"e":22,"v":0.42},{"t":208,"u":222,"s":22,"e":24,"v":0.37},{"t":208,"u":222,"s":24,"e":26,"v":0.33},{"t":208,"u":222,"s":26,"e":27,"v":0.42},{"t":208,"u":222,"s":27,"e":29,"v":0.46},{"t":208,"u":222,"s":29,"e":30,"v":0.39},{"t":208,"u":222,"s":30,"e":31,"v":0.49},
{"t":222,"u":240,"s":1,"e":2,"v":0.49},{"t":222,"u":240,"s":2,"e":3,"v":0.39},{"t":222,"u":240,"s":3,"e":5,"v":0.45},{"t":222,"u":240,"s":5,"e":6,"v":0.41},{"t":222,"u":240,"s":6,"e":8,"v":0.36},{"t":222,"u":240,"s":8,"e":10,"v":0.38},{"t":222,"u":240,"s":10,"e":12,"v":0.42},{"t":222,"u":240,"s":12,"e":14,"v":0.38},{"t":222,"u":240,"s":14,"e":18,"v":0.39},{"t":222,"u":240,"s":18,"e":20,"v":0.38},{"t":222,"u":240,"s":20,"e":22,"v":0.42},{"t":222,"u":240,"s":22,"e":24,"v":0.38},{"t":222,"u":240,"s":24,"e":26,"v":0.36},{"t":222,"u":240,"s":26,"e":27,"v":0.41},{"t":222,"u":240,"s":27,"e":29,"v":0.45},{"t":222,"u":240,"s":29,"e":30,"v":0.39},{"t":222,"u":240,"s":30,"e":31,"v":0.49}]
},
"vconcat":[
{"width":571.5,"height":202.2,"resolve":{"scale":{"x":"independent","y":"independent"},"axis":{"x":"independent","y":"independent"}},"layer":[
{"resolve":{"axis":{"x":"independent","y":"independent"}},"layer":[
{"data":{"values":[{"t":0.12,"u":0.24,"lo":0,"hi":8}]},"mark":{"type":"rect","color":"#e0e0e0"},"encoding":{"x":{"field":"t","type":"quantitative","scale":{"domain":[0,0.5],"nice":false,"zero":false},"axis":{"orient":"bottom","offset":-34.2,"values":[0,0.1,0.2,0.3,0.4,0.5],"format":".1f","title":"t (ps)","titlePadding":-18,"labelPadding":6}},"x2":{"field":"u"},"y":{"field":"lo","type":"quantitative","scale":{"domain":[-1.629,8],"nice":false,"zero":false},"axis":{"orient":"left","values":[0,2,4,6,8],"title":"⟨|τ|⟩ meV","titlePadding":9,"labelPadding":14,"labelFontSize":24,"labelOffset":4,"titleY":85}},"y2":{"field":"hi"}}},
{"data":{"values":[
{"t":0,"v":0.05,"s":"0.001"},{"t":0.05,"v":0.02,"s":"0.001"},{"t":0.12,"v":0.01,"s":"0.001"},{"t":0.14,"v":0.08,"s":"0.001"},{"t":0.145,"v":0.11,"s":"0.001"},{"t":0.157,"v":0.5,"s":"0.001"},{"t":0.166,"v":1.7,"s":"0.001"},{"t":0.171,"v":3.1,"s":"0.001"},{"t":0.177,"v":5.2,"s":"0.001"},{"t":0.182,"v":6.4,"s":"0.001"},{"t":0.1855,"v":6.74,"s":"0.001"},{"t":0.192,"v":6.4,"s":"0.001"},{"t":0.198,"v":5.9,"s":"0.001"},{"t":0.2036,"v":5.1,"s":"0.001"},{"t":0.209,"v":4.64,"s":"0.001"},{"t":0.218,"v":4.2,"s":"0.001"},{"t":0.2327,"v":4.2,"s":"0.001"},{"t":0.2385,"v":3.85,"s":"0.001"},{"t":0.243,"v":3.53,"s":"0.001"},{"t":0.2473,"v":3.4,"s":"0.001"},{"t":0.2648,"v":3.3,"s":"0.001"},{"t":0.282,"v":3.05,"s":"0.001"},{"t":0.2968,"v":2.9,"s":"0.001"},{"t":0.326,"v":2.62,"s":"0.001"},{"t":0.355,"v":2.46,"s":"0.001"},{"t":0.384,"v":2.37,"s":"0.001"},{"t":0.413,"v":2.29,"s":"0.001"},{"t":0.443,"v":2.2,"s":"0.001"},{"t":0.472,"v":2.1,"s":"0.001"},{"t":0.5,"v":2.02,"s":"0.001"},
{"t":0,"v":0.59,"s":"0.01"},{"t":0.004,"v":0.27,"s":"0.01"},{"t":0.011,"v":0.16,"s":"0.01"},{"t":0.0286,"v":0.11,"s":"0.01"},{"t":0.0577,"v":0.05,"s":"0.01"},{"t":0.087,"v":0.02,"s":"0.01"},{"t":0.116,"v":0.05,"s":"0.01"},{"t":0.1277,"v":0.27,"s":"0.01"},{"t":0.1365,"v":0.75,"s":"0.01"},{"t":0.145,"v":1.86,"s":"0.01"},{"t":0.151,"v":2.97,"s":"0.01"},{"t":0.157,"v":5.04,"s":"0.01"},{"t":0.161,"v":6.47,"s":"0.01"},{"t":0.1656,"v":6.76,"s":"0.01"},{"t":0.1715,"v":6.47,"s":"0.01"},{"t":0.177,"v":5.9,"s":"0.01"},{"t":0.183,"v":5.2,"s":"0.01"},{"t":0.192,"v":4.56,"s":"0.01"},{"t":0.2,"v":4.24,"s":"0.01"},{"t":0.209,"v":4.28,"s":"0.01"},{"t":0.221,"v":3.85,"s":"0.01"},{"t":0.23,"v":3.48,"s":"0.01"},{"t":0.243,"v":3.26,"s":"0.01"},{"t":0.2648,"v":3.0,"s":"0.01"},{"t":0.2968,"v":2.81,"s":"0.01"},{"t":0.326,"v":2.5,"s":"0.01"},{"t":0.355,"v":2.45,"s":"0.01"},{"t":0.384,"v":2.3,"s":"0.01"},{"t":0.413,"v":2.26,"s":"0.01"},{"t":0.443,"v":2.15,"s":"0.01"},{"t":0.472,"v":2.07,"s":"0.01"},{"t":0.5,"v":1.99,"s":"0.01"},
{"t":0,"v":6,"s":"0.1"},{"t":0.001,"v":5.2,"s":"0.1"},{"t":0.003,"v":3.77,"s":"0.1"},{"t":0.0067,"v":2.73,"s":"0.1"},{"t":0.014,"v":2.02,"s":"0.1"},{"t":0.0257,"v":1.78,"s":"0.1"},{"t":0.037,"v":1.38,"s":"0.1"},{"t":0.0577,"v":0.91,"s":"0.1"},{"t":0.078,"v":0.59,"s":"0.1"},{"t":0.1,"v":0.35,"s":"0.1"},{"t":0.1067,"v":0.14,"s":"0.1"},{"t":0.113,"v":0.5,"s":"0.1"},{"t":0.12,"v":1.06,"s":"0.1"},{"t":0.1277,"v":2.65,"s":"0.1"},{"t":0.135,"v":4.72,"s":"0.1"},{"t":0.1394,"v":6.47,"s":"0.1"},{"t":0.1438,"v":6.82,"s":"0.1"},{"t":0.15,"v":6.55,"s":"0.1"},{"t":0.157,"v":6.23,"s":"0.1"},{"t":0.1627,"v":5.5,"s":"0.1"},{"t":0.1715,"v":4.64,"s":"0.1"},{"t":0.18,"v":4.36,"s":"0.1"},{"t":0.1875,"v":4.48,"s":"0.1"},{"t":0.195,"v":4.28,"s":"0.1"},{"t":0.2036,"v":3.85,"s":"0.1"},{"t":0.218,"v":3.45,"s":"0.1"},{"t":0.2327,"v":3.2,"s":"0.1"},{"t":0.243,"v":3.1,"s":"0.1"},{"t":0.2648,"v":2.9,"s":"0.1"},{"t":0.2968,"v":2.58,"s":"0.1"},{"t":0.326,"v":2.42,"s":"0.1"},{"t":0.355,"v":2.3,"s":"0.1"},{"t":0.384,"v":2.18,"s":"0.1"},{"t":0.413,"v":2.13,"s":"0.1"},{"t":0.443,"v":2.02,"s":"0.1"},{"t":0.472,"v":1.94,"s":"0.1"},{"t":0.5,"v":1.83,"s":"0.1"}
]},"mark":{"type":"line","strokeWidth":3,"interpolate":"monotone"},"encoding":{"x":{"field":"t","type":"quantitative","axis":null},"y":{"field":"v","type":"quantitative","axis":null},"color":{"field":"s","scale":{"domain":["0.001","0.01","0.1"],"range":["#2a9a2a","#f03535","#3f6ae0"]},"legend":null},"strokeDash":{"field":"s","scale":{"domain":["0.001","0.01","0.1"],"range":[[10,5],[1,0],[2,1.5]]},"legend":null}}},
{"data":{"values":[{"t":0.0753,"v":7.24,"s":"0.001"},{"t":0.099,"v":7.24,"s":"0.001"},{"t":0.0753,"v":6,"s":"0.01"},{"t":0.099,"v":6,"s":"0.01"},{"t":0.0753,"v":4.72,"s":"0.1"},{"t":0.099,"v":4.72,"s":"0.1"}]},"mark":{"type":"line","strokeWidth":3},"encoding":{"x":{"field":"t","type":"quantitative","axis":null},"y":{"field":"v","type":"quantitative","axis":null},"color":{"field":"s","legend":null},"strokeDash":{"field":"s","legend":null}}},
{"data":{"values":[{"t":0.0604,"v":7.14,"x":"0.001"},{"t":0.0604,"v":5.9,"x":"0.01"},{"t":0.0604,"v":4.7,"x":"0.1"},{"t":0.287,"v":1.38,"x":"(a)"}]},"mark":{"type":"text","align":"right","baseline":"middle","fontSize":25},"encoding":{"x":{"field":"t","type":"quantitative","axis":null},"y":{"field":"v","type":"quantitative","axis":null},"text":{"field":"x"}}},
{"data":{"values":[{"p":0.1,"a":0,"b":0.476},{"p":0.2,"a":0,"b":0.476},{"p":0.3,"a":0,"b":0.476},{"p":0.4,"a":0,"b":0.476},{"p":0.1,"a":8,"b":7.524},{"p":0.2,"a":8,"b":7.524},{"p":0.3,"a":8,"b":7.524},{"p":0.4,"a":8,"b":7.524}]},"mark":{"type":"rule","color":"#222","strokeWidth":1},"encoding":{"x":{"field":"p","type":"quantitative","axis":null},"y":{"field":"a","type":"quantitative","axis":null},"y2":{"field":"b"}}},
{"data":{"values":[{"p":1,"a":0,"b":0.0048},{"p":2,"a":0,"b":0.00875},{"p":3,"a":0,"b":0.0048},{"p":4,"a":0,"b":0.00875},{"p":5,"a":0,"b":0.0048},{"p":6,"a":0,"b":0.00875},{"p":7,"a":0,"b":0.0048},{"p":1,"a":0.5,"b":0.4952},{"p":2,"a":0.5,"b":0.49125},{"p":3,"a":0.5,"b":0.4952},{"p":4,"a":0.5,"b":0.49125},{"p":5,"a":0.5,"b":0.4952},{"p":6,"a":0.5,"b":0.49125},{"p":7,"a":0.5,"b":0.4952}]},"mark":{"type":"rule","color":"#222","strokeWidth":1},"encoding":{"y":{"field":"p","type":"quantitative","axis":null},"x":{"field":"a","type":"quantitative","axis":null},"x2":{"field":"b"}}},
{"data":{"values":[{"t":0,"u":0.5,"lo":0,"hi":8}]},"mark":{"type":"rect","fill":"transparent","stroke":"#444","strokeWidth":1.5},"encoding":{"x":{"field":"t","type":"quantitative","axis":null},"x2":{"field":"u"},"y":{"field":"lo","type":"quantitative","axis":null},"y2":{"field":"hi"}}}
]},
{"resolve":{"axis":{"x":"independent","y":"independent"}},"layer":[
{"data":{"values":[{"a":0,"b":0.2,"lo":0,"hi":0.6}]},"mark":{"type":"rect","fill":"transparent","stroke":"#333","strokeWidth":1.2},"encoding":{"x":{"field":"a","type":"quantitative","scale":{"domain":[-0.33447,0.2204],"nice":false,"zero":false},"axis":{"orient":"bottom","offset":-128.2,"values":[0,0.05,0.1,0.15,0.2],"format":".2f","labelFontSize":19,"title":null,"labelPadding":5}},"x2":{"field":"b"},"y":{"field":"lo","type":"quantitative","scale":{"domain":[-1.221,0.7048],"nice":false,"zero":false},"axis":{"orient":"left","offset":-344.5,"values":[0,0.2,0.4,0.6],"format":".1f","labelFontSize":19,"title":null,"labelPadding":8}},"y2":{"field":"hi"}}},
{"data":{"values":[{"a":0,"v":0},{"a":0.018,"v":0.003},{"a":0.037,"v":0.016},{"a":0.06,"v":0.038},{"a":0.079,"v":0.073},{"a":0.0987,"v":0.13},{"a":0.1246,"v":0.215},{"a":0.1505,"v":0.357},{"a":0.173,"v":0.49},{"a":0.194,"v":0.6}]},"mark":{"type":"line","color":"#3a6f9e","strokeWidth":1.3,"interpolate":"monotone"},"encoding":{"x":{"field":"a","type":"quantitative","axis":null},"y":{"field":"v","type":"quantitative","axis":null}}},
{"data":{"values":[{"a":0.113,"v":-0.37,"x":"θ"}]},"mark":{"type":"text","align":"left","baseline":"alphabetic","fontSize":19},"encoding":{"x":{"field":"a","type":"quantitative","axis":null},"y":{"field":"v","type":"quantitative","axis":null},"text":{"field":"x"}}},
{"data":{"values":[{"a":0.122,"v":-0.4,"x":"ran"}]},"mark":{"type":"text","align":"left","baseline":"alphabetic","fontSize":16},"encoding":{"x":{"field":"a","type":"quantitative","axis":null},"y":{"field":"v","type":"quantitative","axis":null},"text":{"field":"x"}}},
{"data":{"values":[{"a":-0.055,"v":0.305,"x":"ΔE (meV)"}]},"mark":{"type":"text","align":"center","baseline":"middle","fontSize":19,"angle":270},"encoding":{"x":{"field":"a","type":"quantitative","axis":null},"y":{"field":"v","type":"quantitative","axis":null},"text":{"field":"x"}}},
{"data":{"values":[{"p":0.05,"a":0,"b":0.076},{"p":0.1,"a":0,"b":0.076},{"p":0.15,"a":0,"b":0.076},{"p":0.05,"a":0.6,"b":0.524},{"p":0.1,"a":0.6,"b":0.524},{"p":0.15,"a":0.6,"b":0.524},{"p":0.01,"a":0,"b":0.038},{"p":0.02,"a":0,"b":0.038},{"p":0.03,"a":0,"b":0.038},{"p":0.04,"a":0,"b":0.038},{"p":0.06,"a":0,"b":0.038},{"p":0.07,"a":0,"b":0.038},{"p":0.08,"a":0,"b":0.038},{"p":0.09,"a":0,"b":0.038},{"p":0.11,"a":0,"b":0.038},{"p":0.12,"a":0,"b":0.038},{"p":0.13,"a":0,"b":0.038},{"p":0.14,"a":0,"b":0.038},{"p":0.16,"a":0,"b":0.038},{"p":0.17,"a":0,"b":0.038},{"p":0.18,"a":0,"b":0.038},{"p":0.19,"a":0,"b":0.038},{"p":0.01,"a":0.6,"b":0.562},{"p":0.02,"a":0.6,"b":0.562},{"p":0.03,"a":0.6,"b":0.562},{"p":0.04,"a":0.6,"b":0.562},{"p":0.06,"a":0.6,"b":0.562},{"p":0.07,"a":0.6,"b":0.562},{"p":0.08,"a":0.6,"b":0.562},{"p":0.09,"a":0.6,"b":0.562},{"p":0.11,"a":0.6,"b":0.562},{"p":0.12,"a":0.6,"b":0.562},{"p":0.13,"a":0.6,"b":0.562},{"p":0.14,"a":0.6,"b":0.562},{"p":0.16,"a":0.6,"b":0.562},{"p":0.17,"a":0.6,"b":0.562},{"p":0.18,"a":0.6,"b":0.562},{"p":0.19,"a":0.6,"b":0.562}]},"mark":{"type":"rule","color":"#222","strokeWidth":1},"encoding":{"x":{"field":"p","type":"quantitative","axis":null},"y":{"field":"a","type":"quantitative","axis":null},"y2":{"field":"b"}}},
{"data":{"values":[{"p":0.1,"a":0,"b":0.0049},{"p":0.2,"a":0,"b":0.0097},{"p":0.3,"a":0,"b":0.0049},{"p":0.4,"a":0,"b":0.0097},{"p":0.5,"a":0,"b":0.0049},{"p":0.1,"a":0.2,"b":0.1951},{"p":0.2,"a":0.2,"b":0.1903},{"p":0.3,"a":0.2,"b":0.1951},{"p":0.4,"a":0.2,"b":0.1903},{"p":0.5,"a":0.2,"b":0.1951}]},"mark":{"type":"rule","color":"#222","strokeWidth":1},"encoding":{"y":{"field":"p","type":"quantitative","axis":null},"x":{"field":"a","type":"quantitative","axis":null},"x2":{"field":"b"}}}
]}
]},
{"width":573,"height":121.2,"resolve":{"axis":{"x":"independent","y":"independent"}},"layer":[
{"data":{"name":"heatB"},"mark":{"type":"rect","strokeWidth":0.7},"encoding":{"x":{"field":"t","type":"quantitative","scale":{"domain":[120,240],"nice":false,"zero":false},"axis":null},"x2":{"field":"u"},"y":{"field":"s","type":"quantitative","scale":{"domain":[1,31],"nice":false,"zero":false},"axis":{"orient":"left","values":[8,16,24],"title":"site","titlePadding":5,"labelPadding":9}},"y2":{"field":"e"},"color":{"field":"v","type":"quantitative","legend":null,"scale":{"domain":[0,0.03,0.09,0.162,0.209,0.246,0.274,0.32,0.36,0.42,0.496,0.552,0.6],"range":["#000000","#0c0620","#221155","#3311a0","#7000d8","#a800b0","#d0105a","#e8453c","#f56a35","#f5a030","#e6d800","#f2e8a0","#fffdf0"],"nice":false,"zero":false,"clamp":true,"interpolate":"rgb"}},"stroke":{"field":"v","type":"quantitative","legend":null,"scale":{"domain":[0,0.03,0.09,0.162,0.209,0.246,0.274,0.32,0.36,0.42,0.496,0.552,0.6],"range":["#000000","#0c0620","#221155","#3311a0","#7000d8","#a800b0","#d0105a","#e8453c","#f56a35","#f5a030","#e6d800","#f2e8a0","#fffdf0"],"nice":false,"zero":false,"clamp":true,"interpolate":"rgb"}}}},
{"data":{"values":[{"t":120,"v":1.25},{"t":141,"v":1.74},{"t":155,"v":2.48},{"t":164,"v":4.7},{"t":169,"v":6.9},{"t":173,"v":10.4},{"t":178,"v":15.8},{"t":184,"v":20.8},{"t":186,"v":21.1},{"t":189,"v":20.5},{"t":191,"v":20},{"t":197.5,"v":18.8},{"t":201,"v":17.3},{"t":205,"v":15.6},{"t":210,"v":15.1},{"t":217.6,"v":13.8},{"t":224.7,"v":13.6},{"t":233,"v":13.6},{"t":240,"v":12.4}]},"mark":{"type":"line","color":"white","strokeWidth":2,"interpolate":"monotone"},"encoding":{"x":{"field":"t","type":"quantitative","axis":null},"y":{"field":"v","type":"quantitative","axis":null}}},
{"data":{"values":[{"t":223.2,"v":24.5,"x":"(b)"}]},"mark":{"type":"text","align":"center","baseline":"middle","fontSize":24},"encoding":{"x":{"field":"t","type":"quantitative","axis":null},"y":{"field":"v","type":"quantitative","axis":null},"text":{"field":"x"}}},
{"data":{"name":"heatTicksX"},"mark":{"type":"rule","color":"#222","strokeWidth":1},"encoding":{"x":{"field":"p","type":"quantitative","axis":null},"y":{"field":"a","type":"quantitative","axis":null},"y2":{"field":"b"}}},
{"data":{"name":"heatTicksY"},"mark":{"type":"rule","color":"#222","strokeWidth":1},"encoding":{"y":{"field":"p","type":"quantitative","axis":null},"x":{"field":"a","type":"quantitative","axis":null},"x2":{"field":"b"}}},
{"data":{"name":"heatFrame"},"mark":{"type":"rect","fill":"transparent","stroke":"#555","strokeWidth":1.5},"encoding":{"x":{"field":"t","type":"quantitative","axis":null},"x2":{"field":"u"},"y":{"field":"s","type":"quantitative","axis":null},"y2":{"field":"e"}}}
]},
{"width":573,"height":121.2,"resolve":{"scale":{"x":"independent","y":"independent"},"axis":{"x":"independent","y":"independent"}},"layer":[
{"resolve":{"axis":{"x":"independent","y":"independent"}},"layer":[
{"data":{"name":"heatC"},"mark":{"type":"rect","strokeWidth":0.7},"encoding":{"x":{"field":"t","type":"quantitative","scale":{"domain":[120,240],"nice":false,"zero":false},"axis":null},"x2":{"field":"u"},"y":{"field":"s","type":"quantitative","scale":{"domain":[1,31],"nice":false,"zero":false},"axis":{"orient":"left","values":[8,16,24],"title":"site","titlePadding":5,"labelPadding":9}},"y2":{"field":"e"},"color":{"field":"v","type":"quantitative","legend":null,"scale":{"domain":[0,0.03,0.09,0.162,0.209,0.246,0.274,0.32,0.36,0.42,0.496,0.552,0.6],"range":["#000000","#0c0620","#221155","#3311a0","#7000d8","#a800b0","#d0105a","#e8453c","#f56a35","#f5a030","#e6d800","#f2e8a0","#fffdf0"],"nice":false,"zero":false,"clamp":true,"interpolate":"rgb"}},"stroke":{"field":"v","type":"quantitative","legend":null,"scale":{"domain":[0,0.03,0.09,0.162,0.209,0.246,0.274,0.32,0.36,0.42,0.496,0.552,0.6],"range":["#000000","#0c0620","#221155","#3311a0","#7000d8","#a800b0","#d0105a","#e8453c","#f56a35","#f5a030","#e6d800","#f2e8a0","#fffdf0"],"nice":false,"zero":false,"clamp":true,"interpolate":"rgb"}}}},
{"data":{"values":[{"t":120,"v":1.25},{"t":127,"v":1.7},{"t":134,"v":2.5},{"t":141,"v":4.5},{"t":147.9,"v":6.9},{"t":152,"v":10.2},{"t":156,"v":15.1},{"t":160.4,"v":18.9},{"t":166,"v":21},{"t":173,"v":19.8},{"t":178,"v":18.5},{"t":184,"v":16.4},{"t":191,"v":14.3},{"t":198,"v":13.8},{"t":205,"v":13.8},{"t":212,"v":13.1},{"t":220.5,"v":12.4},{"t":226,"v":11.4},{"t":240,"v":10.9}]},"mark":{"type":"line","color":"white","strokeWidth":2,"interpolate":"monotone"},"encoding":{"x":{"field":"t","type":"quantitative","axis":null},"y":{"field":"v","type":"quantitative","axis":null}}},
{"data":{"values":[{"t":223.2,"v":24.2,"x":"(c)"}]},"mark":{"type":"text","align":"center","baseline":"middle","fontSize":24},"encoding":{"x":{"field":"t","type":"quantitative","axis":null},"y":{"field":"v","type":"quantitative","axis":null},"text":{"field":"x"}}},
{"data":{"name":"heatTicksX"},"mark":{"type":"rule","color":"#222","strokeWidth":1},"encoding":{"x":{"field":"p","type":"quantitative","axis":null},"y":{"field":"a","type":"quantitative","axis":null},"y2":{"field":"b"}}},
{"data":{"name":"heatTicksY"},"mark":{"type":"rule","color":"#222","strokeWidth":1},"encoding":{"y":{"field":"p","type":"quantitative","axis":null},"x":{"field":"a","type":"quantitative","axis":null},"x2":{"field":"b"}}},
{"data":{"name":"heatFrame"},"mark":{"type":"rect","fill":"transparent","stroke":"#555","strokeWidth":1.5},"encoding":{"x":{"field":"t","type":"quantitative","axis":null},"x2":{"field":"u"},"y":{"field":"s","type":"quantitative","axis":null},"y2":{"field":"e"}}}
]},
{"resolve":{"axis":{"x":"independent","y":"independent"}},"layer":[
{"data":{"name":"bar"},"mark":{"type":"rect","strokeWidth":0.7},"encoding":{"x":{"datum":0,"type":"quantitative","scale":{"domain":[-32.39,-0.556],"nice":false,"zero":false},"axis":null},"x2":{"datum":1},"y":{"field":"lo","type":"quantitative","scale":{"domain":[0.192,0.5302],"nice":false,"zero":false},"axis":null},"y2":{"field":"hi"},"color":{"field":"v","type":"quantitative","legend":null,"scale":{"domain":[0,0.03,0.09,0.162,0.209,0.246,0.274,0.32,0.36,0.42,0.496,0.552,0.6],"range":["#000000","#0c0620","#221155","#3311a0","#7000d8","#a800b0","#d0105a","#e8453c","#f56a35","#f5a030","#e6d800","#f2e8a0","#fffdf0"],"nice":false,"zero":false,"clamp":true,"interpolate":"rgb"}},"stroke":{"field":"v","type":"quantitative","legend":null,"scale":{"domain":[0,0.03,0.09,0.162,0.209,0.246,0.274,0.32,0.36,0.42,0.496,0.552,0.6],"range":["#000000","#0c0620","#221155","#3311a0","#7000d8","#a800b0","#d0105a","#e8453c","#f56a35","#f5a030","#e6d800","#f2e8a0","#fffdf0"],"nice":false,"zero":false,"clamp":true,"interpolate":"rgb"}}}},
{"data":{"values":[{"a":0,"b":1,"lo":0,"hi":0.6}]},"mark":{"type":"rect","fill":"transparent","stroke":"#555","strokeWidth":1.2},"encoding":{"x":{"field":"a","type":"quantitative","axis":null},"x2":{"field":"b"},"y":{"field":"lo","type":"quantitative","axis":null},"y2":{"field":"hi"}}},
{"data":{"values":[{"a":0.05,"v":0.659,"x":"0.6"},{"a":0.05,"v":-0.067,"x":"0.0"}]},"mark":{"type":"text","align":"left","baseline":"middle","fontSize":23},"encoding":{"x":{"field":"a","type":"quantitative","axis":null},"y":{"field":"v","type":"quantitative","axis":null},"text":{"field":"x"}}}
]}
]},
{"width":573,"height":121.2,"resolve":{"axis":{"x":"independent","y":"independent"}},"layer":[
{"data":{"name":"heatD"},"mark":{"type":"rect","strokeWidth":0.7},"encoding":{"x":{"field":"t","type":"quantitative","scale":{"domain":[120,240],"nice":false,"zero":false},"axis":{"orient":"bottom","values":[120,140,160,180,200,220,240],"title":"t (fs)","titlePadding":-1,"labelPadding":-2}},"x2":{"field":"u"},"y":{"field":"s","type":"quantitative","scale":{"domain":[1,31],"nice":false,"zero":false},"axis":{"orient":"left","values":[8,16,24],"title":"site","titlePadding":5,"labelPadding":9}},"y2":{"field":"e"},"color":{"field":"v","type":"quantitative","legend":null,"scale":{"domain":[0,0.03,0.09,0.162,0.209,0.246,0.274,0.32,0.36,0.42,0.496,0.552,0.6],"range":["#000000","#0c0620","#221155","#3311a0","#7000d8","#a800b0","#d0105a","#e8453c","#f56a35","#f5a030","#e6d800","#f2e8a0","#fffdf0"],"nice":false,"zero":false,"clamp":true,"interpolate":"rgb"}},"stroke":{"field":"v","type":"quantitative","legend":null,"scale":{"domain":[0,0.03,0.09,0.162,0.209,0.246,0.274,0.32,0.36,0.42,0.496,0.552,0.6],"range":["#000000","#0c0620","#221155","#3311a0","#7000d8","#a800b0","#d0105a","#e8453c","#f56a35","#f5a030","#e6d800","#f2e8a0","#fffdf0"],"nice":false,"zero":false,"clamp":true,"interpolate":"rgb"}}}},
{"data":{"values":[{"t":120,"v":4.2},{"t":124,"v":6.2},{"t":129,"v":9},{"t":134,"v":13.6},{"t":138.8,"v":18.9},{"t":142,"v":21},{"t":145,"v":21.3},{"t":151.4,"v":20.5},{"t":157,"v":19.8},{"t":161.8,"v":18.3},{"t":167,"v":16.8},{"t":172,"v":15.1},{"t":178,"v":14.2},{"t":180,"v":14.1},{"t":186,"v":14.6},{"t":192.5,"v":13.9},{"t":198,"v":13.3},{"t":205,"v":12.4},{"t":212,"v":11.4},{"t":220.5,"v":11.2},{"t":226,"v":10.9},{"t":240,"v":10.4}]},"mark":{"type":"line","color":"white","strokeWidth":2,"interpolate":"monotone"},"encoding":{"x":{"field":"t","type":"quantitative","axis":null},"y":{"field":"v","type":"quantitative","axis":null}}},
{"data":{"values":[{"t":223.2,"v":24.7,"x":"(d)"}]},"mark":{"type":"text","align":"center","baseline":"middle","fontSize":24},"encoding":{"x":{"field":"t","type":"quantitative","axis":null},"y":{"field":"v","type":"quantitative","axis":null},"text":{"field":"x"}}},
{"data":{"name":"heatTicksX"},"mark":{"type":"rule","color":"#222","strokeWidth":1},"encoding":{"x":{"field":"p","type":"quantitative","axis":null},"y":{"field":"a","type":"quantitative","axis":null},"y2":{"field":"b"}}},
{"data":{"name":"heatTicksY"},"mark":{"type":"rule","color":"#222","strokeWidth":1},"encoding":{"y":{"field":"p","type":"quantitative","axis":null},"x":{"field":"a","type":"quantitative","axis":null},"x2":{"field":"b"}}},
{"data":{"name":"heatFrame"},"mark":{"type":"rect","fill":"transparent","stroke":"#555","strokeWidth":1.5},"encoding":{"x":{"field":"t","type":"quantitative","axis":null},"x2":{"field":"u"},"y":{"field":"s","type":"quantitative","axis":null},"y2":{"field":"e"}}}
]}
]}
